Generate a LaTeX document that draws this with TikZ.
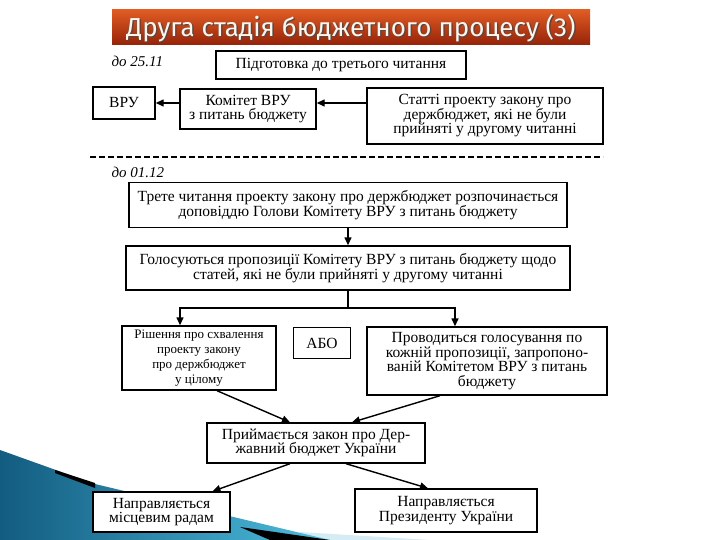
\documentclass[tikz,border=0pt]{standalone}
\usepackage{fontspec}
\setmainfont{Liberation Serif}
\newfontfamily\zagolovok{Fira Sans}
\usetikzlibrary{arrows.meta, positioning}
\definecolor{chervonyiVerh}{RGB}{224,92,36}
\definecolor{chervonyiNyz}{RGB}{150,34,8}
\definecolor{syniiTemnyi}{RGB}{18,92,128}
\definecolor{syniiSvitlyi}{RGB}{78,190,222}
\definecolor{blidyi}{RGB}{214,236,244}

\begin{document}
\begin{tikzpicture}[x=1pt, y=-1pt,
    blok/.style={draw, line width=1.4pt, fill=white, align=center, inner sep=0pt,
                 font=\fontsize{15.5}{14.5}\selectfont},
    strilka/.style={-{Triangle[length=8pt,width=7pt]}, line width=1.4pt},
    data/.style={anchor=west, font=\fontsize{15}{15}\selectfont\itshape}]

    % Поле слайда
    \useasboundingbox[fill=white] (0,0) rectangle (720,540);

    % Синя смуга внизу зліва
    \fill[blidyi] (300,532) -- (430,540) -- (300,540) -- cycle;
    \shade[left color=syniiTemnyi, right color=syniiSvitlyi]
        (0,450) -- (95,484) -- (330,540) -- (0,540) -- cycle;
    \fill[black] (55,470) -- (95,483) -- (95,488) -- (55,473) -- cycle;
    \fill[black] (240,527) -- (330,540) -- (270,540) -- cycle;

    % Заголовок
    \shade[top color=chervonyiVerh, bottom color=chervonyiNyz]
        (112,10) rectangle (590,45);
    \node[text=black!70, font=\zagolovok\fontsize{26}{26}\selectfont] (tin) at (352.5,29.5)
        {Друга стадія бюджетного процесу (3)};
    \node[text=white!92!orange, font=\zagolovok\fontsize{26}{26}\selectfont] (nazva) at (351,28)
        {Друга стадія бюджетного процесу (3)};

    % Підготовка до третього читання (до 25.11)
    \node[data] (data1) at (108,61) {до 25.11};
    \node[blok, minimum width=250, minimum height=28] (pidg) at (341,65)
        {Підготовка до третього читання};
    \node[blok, minimum width=62, minimum height=32] (vru) at (124,103) {ВРУ};
    \node[blok, minimum width=136, minimum height=40] (kom) at (248,109)
        {Комітет ВРУ\\з питань бюджету};
    \node[blok, minimum width=236, minimum height=56] (stat) at (485,116)
        {Статті проекту закону про\\держбюджет, які не були\\прийняті у другому читанні};

    \draw[strilka] (stat.west |- vru) -- (kom.east |- vru);
    \draw[strilka] (kom.west |- vru) -- (vru.east);

    % Розділювач
    \draw[line width=1.4pt, dash pattern=on 6pt off 3pt] (90,157) -- (603,157);

    % Третє читання (до 01.12)
    \node[data] (data2) at (108,172) {до 01.12};
    \node[blok, minimum width=438, minimum height=45] (trete) at (348,205)
        {Трете читання проекту закону про держбюджет розпочинається\\доповіддю Голови Комітету ВРУ з питань бюджету};
    \node[blok, minimum width=444, minimum height=44] (holos) at (348,268)
        {Голосуються пропозиції Комітету ВРУ з питань бюджету щодо\\статей, які не були прийняті у другому читанні};
    \draw[strilka] (trete) -- (holos);

    \node[blok, minimum width=154, minimum height=64, font=\fontsize{13}{15}\selectfont] (rish) at (199,358)
        {Рішення про схвалення\\проекту закону\\про держбюджет\\у цілому};
    \node[blok, minimum width=57, minimum height=31] (abo) at (322,343) {АБО};
    \node[blok, minimum width=240, minimum height=68] (prov) at (487,361)
        {Проводиться голосування по\\кожній пропозиції, запропоно-\\ваній Комітетом ВРУ з питань\\бюджету};

    \coordinate (vuzol) at (348,308);
    \draw[line width=1.4pt] (holos) -- (vuzol);
    \draw[strilka] (vuzol) -| ([xshift=-19pt]rish.north);
    \draw[strilka] (vuzol) -| ([xshift=-32pt]prov.north);

    % Прийняття закону
    \node[blok, minimum width=218, minimum height=40] (pryim) at (316,443)
        {Приймається закон про Дер-\\жавний бюджет України};
    \draw[strilka] ([xshift=18pt]rish.south) -- ([xshift=-26pt]pryim.north);
    \draw[strilka] ([xshift=-47pt]prov.south) -- ([xshift=36pt]pryim.north);

    \node[blok, minimum width=137, minimum height=40] (mists) at (161.5,512)
        {Направляється\\місцевим радам};
    \node[blok, minimum width=182, minimum height=43] (prez) at (446,510.5)
        {Направляється\\Президенту України};
    \draw[strilka] ([xshift=-26pt]pryim.south) -- ([xshift=51pt]mists.north);
    \draw[strilka] ([xshift=30pt]pryim.south) -- ([xshift=-18pt]prez.north);
\end{tikzpicture}
\end{document}
